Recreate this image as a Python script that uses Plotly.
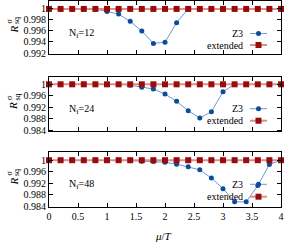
import plotly.graph_objects as go
from plotly.subplots import make_subplots

mu = [0.0, 0.2, 0.4, 0.6, 0.8, 1.0, 1.2, 1.4, 1.6, 1.8, 2.0, 2.2, 2.4, 2.6, 2.8, 3.0, 3.2, 3.4, 3.6, 3.8, 4.0]
z3_nt12 = [1, 1, 1, 1, 0.99995, 0.99955, 0.99906, 0.99775, 0.9960, 0.99373, 0.99396, 0.99751, 1, 1, 1, 1, 1, 1, 1, 1, 1]
z3_nt24 = [1, 1, 1, 1, 1, 1, 0.99995, 0.9997, 0.99895, 0.99835, 0.9966, 0.99403, 0.99074, 0.98818, 0.99039, 0.9974, 1, 1, 1, 1, 1]
z3_nt48 = [1, 1, 1, 1, 1, 1, 1, 0.99985, 0.99966, 0.99955, 0.99931, 0.99863, 0.9977, 0.99667, 0.99383, 0.99016, 0.9856, 0.9856, 0.9912, 0.99853, 1]
ext_nt12 = [1.0] * 21
ext_nt24 = [1.0] * 21
ext_nt48 = [1.0] * 21
panel_labels = ["N<sub>f</sub>=12", "N<sub>f</sub>=24", "N<sub>f</sub>=48"]
series_names = ["Z3", "extended"]
x_ticks = [0, 0.5, 1, 1.5, 2, 2.5, 3, 3.5, 4]
x_ticktext = ["0", "0.5", "1", "1.5", "2", "2.5", "3", "3.5", "4"]
y_ticks_top = [0.992, 0.994, 0.996, 0.998, 1.0]
y_ticktext_top = ["0.992", "0.994", "0.996", "0.998", "1"]
y_ticks_low = [0.984, 0.988, 0.992, 0.996, 1.0]
y_ticktext_low = ["0.984", "0.988", "0.992", "0.996", "1"]

W, H = 286, 242
ML, MR, MT, MB = 49, 5, 1, 35
PW, PH = W - ML - MR, H - MT - MB

def px(x):
    return (x - ML) / PW

def py(y):
    return (H - MB - y) / PH

BLUE_M = "#0a4c9a"
BLUE_L = "#6a9ad6"
RED_M = "#990c0c"
RED_L = "#d89090"
FONT = "Liberation Serif"

fig = make_subplots(rows=3, cols=1, shared_xaxes=False, vertical_spacing=0.05)

z3s = [z3_nt12, z3_nt24, z3_nt48]
exts = [ext_nt12, ext_nt24, ext_nt48]
for i in range(3):
    fig.add_trace(go.Scatter(x=mu, y=z3s[i], mode="lines+markers", name=series_names[0],
                             line=dict(color=BLUE_L, width=1),
                             marker=dict(color=BLUE_M, size=5, symbol="circle"),
                             showlegend=False, cliponaxis=False), row=i + 1, col=1)
    fig.add_trace(go.Scatter(x=mu, y=exts[i], mode="lines+markers", name=series_names[1],
                             line=dict(color=RED_L, width=2),
                             marker=dict(color=RED_M, size=6, symbol="square"),
                             showlegend=False, cliponaxis=False), row=i + 1, col=1)

panels = [(1, 54), (77, 131), (152, 207)]
yranges = [[0.99182, 1.00144], [0.98365, 1.00256], [0.9838, 1.00284]]
for i, (top, bot) in enumerate(panels):
    ax = "yaxis" if i == 0 else f"yaxis{i+1}"
    xa = "xaxis" if i == 0 else f"xaxis{i+1}"
    fig.layout[ax].update(domain=[py(bot), py(top)], range=yranges[i],
                          tickvals=y_ticks_top if i == 0 else y_ticks_low,
                          ticktext=y_ticktext_top if i == 0 else y_ticktext_low,
                          ticks="inside", ticklen=4, tickcolor="black",
                          showline=True, linecolor="black", linewidth=1, mirror="ticks",
                          showgrid=False, zeroline=False,
                          tickfont=dict(family=FONT, size=10, color="black"))
    fig.layout[xa].update(domain=[0, 1], range=[0, 4], tickvals=x_ticks, ticktext=x_ticktext,
                          showticklabels=(i == 2),
                          ticks="inside", ticklen=4, tickcolor="black",
                          showline=True, linecolor="black", linewidth=1, mirror="ticks",
                          showgrid=False, zeroline=False,
                          tickfont=dict(family=FONT, size=10, color="black"))

annotations = []
shapes = []

def ann(x, y, text, size, xanchor="center", angle=0, italic=False):
    annotations.append(dict(x=px(x), y=py(y), xref="paper", yref="paper",
                            xanchor=xanchor, yanchor="middle", text=text, textangle=angle,
                            showarrow=False, font=dict(family=FONT, size=size, color="black")))

legend_rows = [(33.5, 45), (108.7, 120.7), (184.3, 196.7)]
for i, (top, bot) in enumerate(panels):
    mid = (top + bot) / 2
    ann(13, mid + 2, "<i>R</i>", 11, angle=-90)
    ann(9, mid - 6, "σ", 8, angle=-90)
    ann(16.5, mid - 7, "sq", 8, angle=-90)
    ann(67, top + 32, panel_labels[i], 10, xanchor="left")
    yz, ye = legend_rows[i]
    for name, yy, lc, mc, sym in [(series_names[0], yz, BLUE_L, BLUE_M, "circle"),
                                  (series_names[1], ye, RED_L, RED_M, "square")]:
        ann(245, yy, name, 10, xanchor="right")
        shapes.append(dict(type="line", xref="paper", yref="paper", x0=px(250), x1=px(267),
                           y0=py(yy), y1=py(yy), line=dict(color=lc, width=1 if sym == "circle" else 2)))
        r = 2.5 if sym == "circle" else 3
        shapes.append(dict(type="circle" if sym == "circle" else "rect", xref="paper", yref="paper",
                           x0=px(258.5 - r), x1=px(258.5 + r), y0=py(yy + r), y1=py(yy - r),
                           fillcolor=mc, line=dict(width=0)))

ann(163, 236, "<i>μ</i>/<i>T</i>", 11)

fig.update_layout(width=W, height=H, margin=dict(l=ML, r=MR, t=MT, b=MB),
                  plot_bgcolor="white", paper_bgcolor="white",
                  annotations=annotations, shapes=shapes, showlegend=False)

fig.write_html("out.html", config={"displayModeBar": False},
               post_script="document.body.style.margin='0';document.body.style.padding='0';document.body.style.overflow='hidden';")
